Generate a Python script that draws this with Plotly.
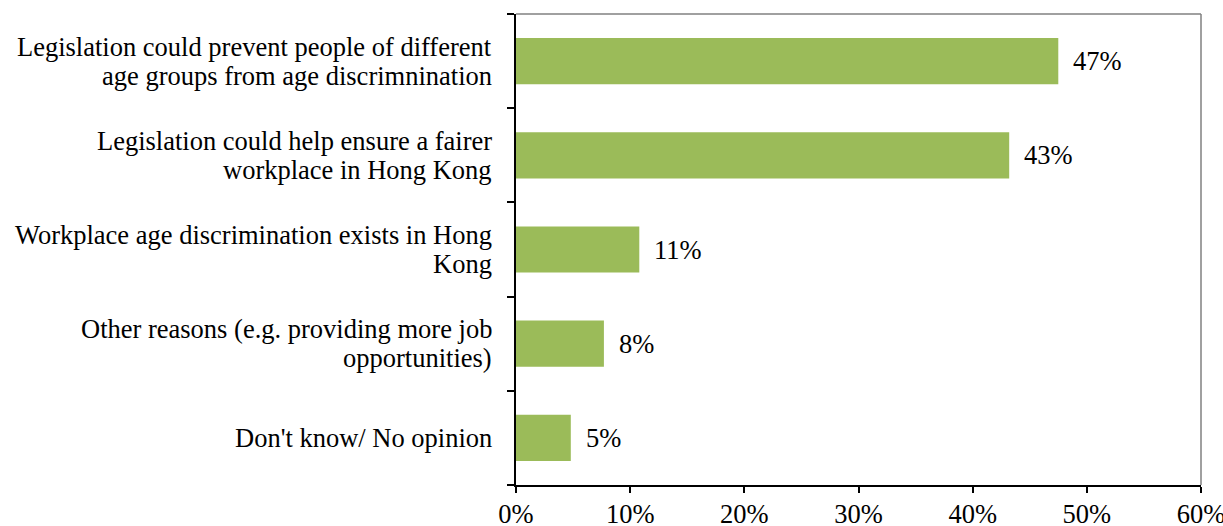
import plotly.graph_objects as go

categories = [
    "Legislation could prevent people of different<br>age groups from age discrimnination",
    "Legislation could help ensure a fairer<br>workplace in Hong Kong",
    "Workplace age discrimination exists in Hong<br>Kong",
    "Other reasons (e.g. providing more job<br>opportunities)",
    "Don't know/ No opinion",
]
values = [47.5, 43.2, 10.8, 7.7, 4.8]
value_labels = ["47%", "43%", "11%", "8%", "5%"]
x_ticks = [0, 10, 20, 30, 40, 50, 60]
x_tick_labels = ["0%", "10%", "20%", "30%", "40%", "50%", "60%"]

FONT = "Liberation Serif, Times New Roman, serif"
FS = 26.5
LINE_GAP = 29

fig = go.Figure()
fig.add_trace(go.Bar(
    y=categories, x=values, orientation="h",
    marker=dict(color="#9BBB59", line=dict(width=0)),
    hoverinfo="skip",
))

for c, v, t in zip(categories, values, value_labels):
    fig.add_annotation(x=v, y=c, text=t, showarrow=False, xanchor="left",
                       xshift=13, font=dict(family=FONT, size=FS, color="#000"))

# category labels, one text line per annotation for tighter line spacing
for c in categories:
    lines = c.split("<br>")
    n = len(lines)
    for i, ln in enumerate(lines):
        shift = ((n - 1) / 2 - i) * LINE_GAP
        fig.add_annotation(x=0, xref="paper", y=c, yref="y", text=ln,
                           showarrow=False, xanchor="right", xshift=-22,
                           yshift=shift,
                           font=dict(family=FONT, size=FS, color="#000"))

fig.update_layout(
    width=1223, height=526,
    margin=dict(l=516, r=22, t=14, b=41),
    paper_bgcolor="white", plot_bgcolor="white",
    showlegend=False, bargap=0.51,
    font=dict(family=FONT, size=FS, color="#000"),
    xaxis=dict(range=[0, 60], tickvals=x_ticks, ticktext=x_tick_labels,
               showgrid=False, zeroline=False, showline=True, linecolor="#000",
               linewidth=1.5, ticks="outside", ticklen=6, tickcolor="#000",
               tickwidth=1.5, tickfont=dict(family=FONT, size=FS),
               ticklabeloverflow="allow", ticklabelstandoff=-2,
               automargin=False),
    yaxis=dict(categoryorder="array", categoryarray=categories[::-1],
               tickson="boundaries", showgrid=False, zeroline=False,
               showline=True, linecolor="#000", linewidth=2, ticks="outside",
               ticklen=7, tickcolor="#000", tickwidth=2,
               showticklabels=False, automargin=False),
)

fig.add_shape(type="line", xref="paper", yref="paper", x0=0, x1=1, y0=1, y1=1,
              line=dict(color="#808080", width=1.5))
fig.add_shape(type="line", xref="paper", yref="paper", x0=1, x1=1, y0=0, y1=1,
              line=dict(color="#808080", width=1.5))

fig.write_html(
    "out.html",
    config={"displayModeBar": False},
    post_script="document.body.style.margin='0';document.body.style.overflow='hidden';",
)
